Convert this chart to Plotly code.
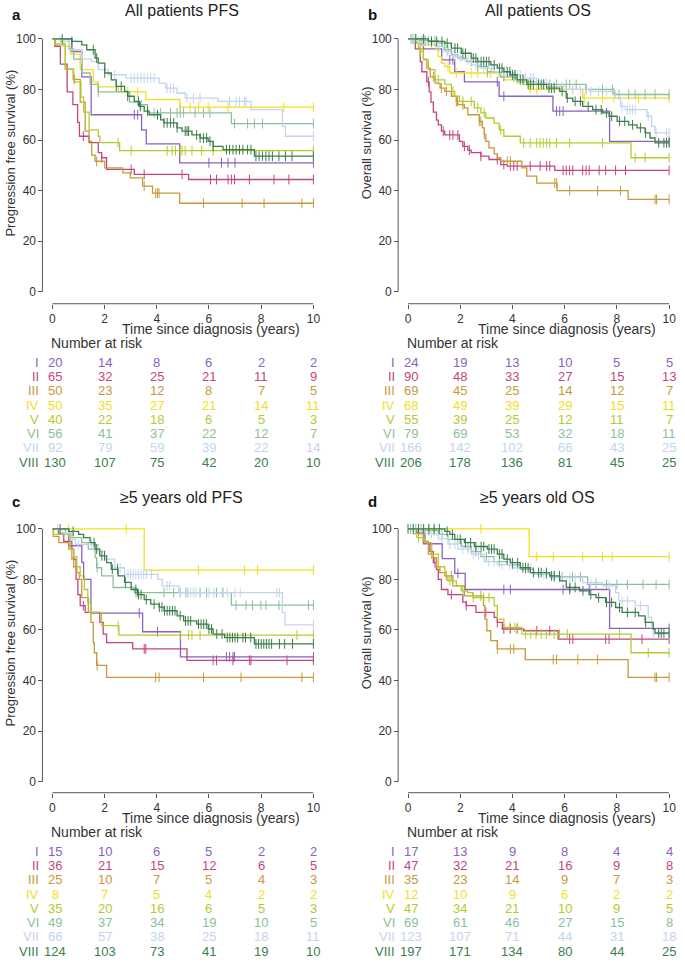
import plotly.graph_objects as go

W, H = 685, 964
FONT = "Liberation Sans, Arial, sans-serif"

GROUPS = ["I", "II", "III", "IV", "V", "VI", "VII", "VIII"]
COLORS = ["#8A62C0", "#C4467E", "#C8993A", "#F2DE1E", "#B4CB2D", "#8DBE9C", "#C3D4EF", "#3B7E4C"]
RISK_TIMES = [0, 2, 4, 6, 8, 10]
X_TICKS = [0, 2, 4, 6, 8, 10]
Y_TICKS = [0, 20, 40, 60, 80, 100]

TITLES = ["All patients PFS", "All patients OS", "\u22655 years old PFS", "\u22655 years old OS"]
LETTERS = ["a", "b", "c", "d"]
Y_TITLES = ["Progression free survival (%)", "Overall survival (%)",
            "Progression free survival (%)", "Overall survival (%)"]
X_TITLE = "Time since diagnosis (years)"

# ---------------- Panel a: All patients PFS ----------------
a_I = [(0.75, 95), (1.13, 85), (1.49, 70), (3.42, 64), (3.6, 58.5), (4.88, 51)]
a_I_cens = [3.14, 3.27, 6.0, 6.48, 6.73, 7.0, 10]
a_II = [(0.1, 97), (0.31, 90), (0.57, 79), (0.79, 74), (0.97, 67), (1.04, 61.5), (1.41, 59), (1.76, 55),
        (1.89, 53), (2.08, 48.4), (3.14, 46.4), (5.22, 44.4)]
a_II_cens = [1.19, 1.89, 3.02, 3.52, 4.97, 6.06, 6.29, 6.73, 6.86, 6.98, 7.55, 8.49, 9.06, 10]
a_III = [(0.1, 97.5), (0.5, 88), (0.8, 84), (1.07, 75), (1.26, 63.5), (1.41, 59.5), (1.51, 54), (1.64, 51.6),
         (2.01, 49), (2.7, 47), (2.99, 45), (3.46, 41.8), (3.84, 39), (4.88, 35)]
a_III_cens = [0.85, 1.7, 3.52, 3.96, 4.03, 4.09, 5.79, 7.27, 8.11, 9.56, 10]
a_IV = [(0.44, 97), (0.69, 94), (1.07, 87.8), (1.57, 83), (1.76, 81), (2.52, 79), (3.58, 76), (4.88, 73)]
a_IV_cens = [1.76, 2.89, 3.27, 4.9, 5.28, 5.6, 5.97, 6.73, 8.87, 10]
a_V = [(0.1, 98), (0.5, 88), (0.82, 83), (1.1, 77), (1.2, 71), (1.41, 64), (1.76, 61.5), (1.82, 59), (2.58, 55.8)]
a_V_cens = [2.52, 3.02, 4.4, 4.59, 4.72, 4.9, 4.97, 5.09, 5.35, 5.72, 6.16, 10]
a_VI = [(0.63, 96), (0.82, 92), (1.13, 86.5), (1.45, 82), (1.76, 79), (2.96, 75), (3.27, 74), (3.65, 70.7),
        (6.86, 66.5)]
a_VI_cens = [1.76, 3.4, 3.9, 4.15, 4.53, 4.78, 4.9, 5.03, 5.47, 5.79, 6.04, 6.98, 7.48, 7.74, 8.05, 10]
a_VII = [(0.3, 99), (0.63, 95.7), (1.13, 92), (1.5, 91), (1.76, 87.8), (2.14, 85.8), (2.83, 84.5), (4.09, 82.5),
         (4.34, 80.5), (4.78, 78.6), (5.09, 76.6), (6.35, 75.3), (7.61, 72), (8.81, 65.4), (8.93, 61.5)]
a_VII_cens = [0.31, 1.13, 2.39, 3.02, 3.14, 3.27, 3.4, 3.52, 3.65, 3.77, 3.9, 4.4, 4.53, 4.65, 5.16, 5.41, 5.66,
              6.79, 7.04, 7.17, 7.36, 7.42, 10]
a_VIII = [(0.75, 99), (1.13, 97.6), (1.32, 95.7), (1.64, 92.4), (1.76, 90.4), (2.01, 86.5), (2.26, 83.8),
          (2.45, 81.2), (2.77, 79.2), (2.89, 77.3), (3.14, 75.3), (3.33, 73.3), (3.52, 71.4), (3.71, 70),
          (4.15, 68), (4.28, 66.8), (4.78, 64.8), (4.97, 63.5), (5.35, 62), (5.66, 60.8), (5.97, 59.5),
          (6.16, 57.5), (6.54, 56.2), (7.74, 53.6)]
a_VIII_cens = [0.38, 0.75, 1.57, 1.7, 2.01, 2.45, 2.64, 2.89, 3.3, 3.37, 3.65, 4.03, 4.28, 4.4, 4.53, 4.65, 4.78,
               5.09, 5.16, 5.22, 5.53, 5.66, 5.79, 5.91, 6.04, 6.16, 6.67, 6.79, 6.92, 7.04, 7.17, 7.3, 7.48,
               7.61, 7.8, 7.92, 8.05, 8.18, 8.3, 8.43, 8.68, 8.93, 9.18, 10]
a_risk = [[20, 14, 8, 6, 2, 2], [65, 32, 25, 21, 11, 9], [50, 23, 12, 8, 7, 5], [50, 35, 27, 21, 14, 11],
          [40, 22, 18, 6, 5, 3], [56, 41, 37, 22, 12, 7], [92, 79, 59, 39, 22, 14], [130, 107, 75, 42, 20, 10]]

# ---------------- Panel b: All patients OS ----------------
b_I = [(0.59, 96), (1.29, 91.7), (1.79, 87), (2.16, 83), (3.49, 77.3), (5.55, 71.4), (7.72, 59.5)]
b_I_cens = [1.6, 1.72, 3.42, 3.67, 5.69, 5.81, 5.94, 10]
b_II = [(0.28, 96), (0.47, 91), (0.53, 87), (0.72, 83), (0.81, 79), (0.88, 75), (0.97, 71), (1.09, 67.9),
        (1.16, 66), (1.28, 63.5), (1.41, 62), (1.97, 59.5), (2.1, 57.5), (2.29, 56), (2.42, 55), (2.79, 53.6),
        (3.1, 52.3), (3.55, 50.3), (3.8, 49.7), (5.62, 48)]
b_II_cens = [0.78, 1.35, 1.6, 1.72, 1.91, 2.16, 2.35, 2.79, 3.42, 3.67, 3.92, 4.05, 4.18, 4.68, 5.06, 5.31, 5.43,
             5.94, 6.06, 6.19, 6.31, 6.69, 6.82, 6.94, 7.32, 7.57, 7.95, 8.33, 10]
b_III = [(0.4, 96), (0.59, 92), (0.72, 88.4), (0.85, 85), (1.04, 82.5), (1.23, 80.5), (1.41, 79.2), (1.66, 77.3),
         (1.85, 75.3), (1.91, 74), (2.16, 72.7), (2.29, 70), (2.73, 67.4), (2.85, 64.8), (2.92, 62.2),
         (2.98, 59.5), (3.1, 56.9), (3.3, 54.5), (3.42, 53), (3.55, 51.6), (4.36, 49), (4.55, 45.7), (4.93, 43),
         (5.71, 40), (8.43, 36.5)]
b_III_cens = [0.97, 1.28, 1.47, 1.85, 1.89, 2.1, 2.73, 2.79, 2.92, 3.8, 3.92, 5.62, 5.69, 6.19, 7.26, 8.14, 9.46,
              9.52, 10]
b_IV = [(0.21, 98.3), (0.4, 97.6), (1.09, 95.7), (1.16, 93), (1.28, 90.4), (1.41, 89), (1.6, 86.5), (3.49, 85),
        (3.67, 83.8), (4.43, 81.9), (4.62, 80), (6.69, 76.6)]
b_IV_cens = [1.53, 1.85, 2.42, 2.67, 3.04, 3.17, 4.18, 4.68, 4.93, 6.31, 6.75, 7.45, 7.89, 8.83, 10]
b_V = [(0.21, 98.3), (0.47, 95), (0.59, 91.7), (0.78, 87.8), (1.03, 83.8), (1.41, 82), (1.66, 79.2), (1.79, 77.3),
       (1.97, 75.3), (2.54, 72.7), (2.79, 70.7), (2.98, 68.7), (3.3, 66.7), (3.49, 64), (3.67, 61.5), (4.3, 58.9),
       (8.54, 53)]
b_V_cens = [0.47, 1.16, 1.72, 2.1, 2.42, 2.67, 2.92, 3.55, 4.43, 4.68, 4.93, 5.06, 5.18, 5.31, 5.43, 5.69, 6.19,
            7.45, 8.7, 9.08, 10]
b_VI = [(0.4, 99.3), (1.16, 98.3), (1.41, 95.7), (1.66, 93.7), (1.91, 92.4), (2.23, 91), (2.67, 89), (3.04, 87),
        (3.55, 85), (4.18, 83), (4.93, 82), (6.82, 80), (7.89, 78)]
b_VI_cens = [0.15, 0.28, 0.53, 0.66, 0.78, 1.03, 1.53, 2.42, 2.67, 3.04, 3.67, 4.05, 4.68, 5.18, 5.43, 5.69, 6.06,
             6.19, 6.44, 6.82, 7.45, 7.83, 8.08, 8.45, 8.7, 9.08, 9.46, 10]
b_VII = [(0.28, 99), (0.66, 98.3), (1.03, 97), (1.35, 95), (1.72, 93), (2.04, 91.7), (2.42, 89.7), (2.79, 88.4),
         (3.3, 87), (3.92, 85.8), (4.43, 84.5), (4.93, 82.5), (5.43, 81.2), (6.06, 80), (6.94, 79.2), (7.95, 76.6),
         (8.14, 73.3), (8.33, 72), (9.15, 69.4), (9.33, 65.4), (9.46, 62.8)]
b_VII_cens = [0.1, 0.2, 0.4, 0.6, 0.9, 1.2, 1.5, 1.8, 2.0, 2.3, 2.6, 2.9, 3.2, 3.5, 3.7, 3.8, 4.0, 4.1, 4.2, 4.3,
              4.5, 4.7, 4.8, 5.0, 5.3, 5.6, 5.9, 6.3, 6.6, 7.0, 7.3, 7.6, 8.2, 8.4, 8.5, 8.6, 8.7, 9.2, 9.5, 9.9, 10]
b_VIII = [(0.78, 99), (1.41, 98.3), (1.66, 96.3), (2.04, 94.3), (2.42, 92.4), (2.67, 91), (3.17, 89.7),
          (3.42, 88.4), (3.67, 87), (3.92, 85.8), (4.18, 83.8), (4.55, 82), (5.31, 80.5), (5.81, 79.2),
          (6.06, 76.6), (6.31, 75.3), (6.69, 73.3), (7.07, 72), (7.45, 70.7), (7.7, 69.4), (8.01, 67.4),
          (8.45, 66), (8.77, 64.8), (9.08, 62.8), (9.27, 60.8), (9.46, 58.9)]
b_VIII_cens = [0.3, 0.6, 0.9, 1.1, 1.3, 1.5, 1.8, 1.9, 2.1, 2.2, 2.5, 2.6, 2.8, 2.9, 3.0, 3.1, 3.3, 3.5, 3.6, 3.8,
               3.9, 4.0, 4.1, 4.3, 4.4, 4.6, 4.7, 4.8, 5.0, 5.1, 5.2, 5.4, 5.5, 5.6, 5.9, 6.1, 6.4, 6.6, 6.9,
               7.2, 7.4, 7.6, 7.8, 8.1, 8.3, 8.6, 8.9, 9.1, 9.6, 9.8, 9.9, 10]
b_risk = [[24, 19, 13, 10, 5, 5], [90, 48, 33, 27, 15, 13], [69, 45, 25, 14, 12, 7], [68, 49, 39, 29, 15, 11],
          [55, 39, 25, 12, 11, 7], [79, 69, 53, 32, 18, 11], [166, 142, 102, 66, 43, 25],
          [206, 178, 136, 81, 45, 25]]

# ---------------- Panel c: >=5 years old PFS ----------------
c_I = [(0.63, 93.3), (1.13, 86.7), (1.2, 80), (1.48, 66.7), (3.46, 59.3), (4.91, 49.4)]
c_I_cens = [3.33, 4.03, 6.67, 6.79, 6.92, 6.98, 10]
c_II = [(0.25, 98), (0.44, 95), (0.75, 92), (0.82, 88), (0.91, 80), (0.98, 74), (1.07, 69.6), (1.26, 67),
        (1.82, 63), (1.95, 58.4), (2.08, 55), (3.08, 52.5), (5.16, 48)]
c_II_cens = [1.19, 3.52, 3.58, 6.16, 6.29, 6.92, 7.55, 7.61, 8.99, 10]
c_III = [(0.03, 97), (0.25, 94.5), (0.63, 92), (0.75, 88), (0.82, 85), (0.94, 82.7), (1.03, 80), (1.13, 72.8),
         (1.38, 67), (1.48, 63), (1.57, 55), (1.61, 51), (1.7, 46), (2.08, 41.3)]
c_III_cens = [1.72, 3.96, 4.09, 5.79, 7.23, 9.56, 10]
c_IV = [(3.52, 83.7)]
c_IV_cens = [0.63, 2.83, 5.6, 7.36, 7.86, 10]
c_V = [(0.05, 97.8), (0.69, 92), (0.82, 89), (0.94, 85), (1.07, 81.4), (1.23, 76), (1.36, 71), (1.48, 67),
       (1.89, 61.7), (2.55, 58)]
c_V_cens = [2.52, 4.9, 5.22, 5.35, 5.66, 9.37, 10]
c_VI = [(0.5, 98.5), (0.75, 96.5), (1.13, 94.5), (1.38, 92), (1.64, 88.6), (1.7, 84.6), (1.89, 81.4), (2.33, 76.8),
        (3.14, 74.8), (6.86, 69.8)]
c_VI_cens = [1.72, 3.21, 3.27, 4.28, 4.65, 4.9, 5.16, 5.66, 5.91, 6.29, 6.54, 7.04, 7.42, 7.67, 7.99, 8.18, 8.68,
             9.81, 10]
c_VII = [(0.38, 98.5), (0.75, 95.8), (0.88, 93.8), (1.76, 91.2), (2.01, 88), (2.39, 84.6), (2.77, 82), (4.05, 80),
         (4.21, 77.4), (4.84, 74.8), (8.81, 67), (8.91, 62)]
c_VII_cens = [0.2, 0.6, 1.0, 1.5, 2.5, 2.6, 2.9, 3.0, 3.1, 3.2, 3.3, 3.4, 3.5, 3.6, 3.8, 4.4, 4.5, 4.9, 5.1, 5.2,
              5.3, 5.4, 5.5, 6.0, 6.2, 6.5, 6.7, 7.0, 7.2, 8.6, 8.7, 10]
c_VIII = [(0.63, 99), (1.01, 97.8), (1.2, 96.5), (1.45, 94.5), (1.64, 92), (1.82, 89.3), (2.08, 86.6), (2.26, 84),
          (2.52, 81.4), (2.77, 78.8), (3.02, 76), (3.27, 74), (3.52, 72), (3.77, 70.2), (4.09, 69), (4.28, 67.6),
          (4.78, 65.6), (5.03, 63.6), (5.53, 62.3), (5.97, 60.4), (6.16, 58.4), (6.6, 57), (7.74, 54.5)]
c_VIII_cens = [0.3, 0.8, 1.6, 1.7, 1.9, 2.0, 2.3, 2.5, 2.8, 3.2, 3.3, 3.4, 3.6, 3.9, 4.1, 4.2, 4.3, 4.4, 4.5, 4.6,
               4.7, 4.9, 5.1, 5.2, 5.3, 5.6, 5.7, 5.8, 5.9, 6.0, 6.1, 6.3, 6.5, 6.7, 6.8, 6.9, 7.0, 7.1, 7.3, 7.4,
               7.6, 7.8, 7.9, 8.0, 8.1, 8.2, 8.3, 8.4, 8.7, 8.9, 9.2, 10]
c_risk = [[15, 10, 6, 5, 2, 2], [36, 21, 15, 12, 6, 5], [25, 10, 7, 5, 4, 3], [8, 7, 5, 4, 2, 2],
          [35, 20, 16, 6, 5, 3], [49, 37, 34, 19, 10, 5], [66, 57, 38, 25, 18, 11], [124, 103, 73, 41, 19, 10]]

# ---------------- Panel d: >=5 years old OS ----------------
d_I = [(0.59, 94.1), (1.31, 88.2), (1.79, 82.4), (2.19, 76), (7.72, 60.6)]
d_I_cens = [1.91, 3.67, 3.92, 5.94, 6.19, 6.94, 10]
d_II = [(0.34, 98.4), (0.65, 94.5), (0.84, 91), (0.97, 86.6), (1.09, 84), (1.16, 80), (1.28, 76), (1.53, 74),
        (2.1, 71), (2.23, 69.6), (2.6, 67), (3.3, 65), (3.42, 63), (3.61, 60.4), (4.43, 59.7), (5.75, 56.4)]
d_II_cens = [1.03, 1.66, 2.23, 2.98, 3.42, 3.67, 3.92, 4.18, 4.93, 5.43, 6.19, 6.31, 7.57, 7.7, 8.96, 10]
d_III = [(0.4, 98), (0.59, 95), (0.78, 90), (0.97, 88.6), (1.09, 85), (1.22, 82.7), (1.41, 81.4), (1.72, 77.4),
         (2.16, 73.5), (2.89, 69.6), (2.94, 64.3), (3.02, 59.7), (3.17, 55.8), (3.42, 52.5), (4.49, 48.3),
         (8.43, 41.3)]
d_III_cens = [0.91, 1.47, 1.66, 2.79, 3.42, 3.92, 4.05, 5.56, 5.69, 6.5, 7.26, 9.46, 9.52, 10]
d_IV = [(4.64, 89)]
d_IV_cens = [0.59, 2.79, 4.93, 5.56, 6.69, 7.45, 7.82, 10]
d_V = [(0.21, 98), (0.34, 96.5), (0.65, 94.5), (0.91, 90), (1.16, 85), (1.41, 81.4), (1.53, 79.4), (1.85, 77.4),
       (2.04, 75.5), (2.29, 74.8), (2.48, 72.8), (3.3, 69.6), (3.42, 64.3), (3.67, 61), (4.36, 58.4), (8.54, 51)]
d_V_cens = [0.4, 1.6, 2.1, 2.5, 2.9, 3.1, 3.9, 4.1, 4.2, 4.5, 4.7, 4.9, 5.1, 5.3, 5.6, 5.8, 6.1, 8.1, 9.2, 10]
d_VI = [(0.53, 99.3), (1.16, 97.8), (1.53, 95.8), (2.04, 93), (2.42, 91), (2.79, 89), (3.3, 87), (3.8, 85.8),
        (4.3, 84), (4.81, 82), (5.43, 81), (6.88, 78)]
d_VI_cens = [0.1, 0.3, 0.5, 0.8, 1.0, 1.3, 1.9, 2.3, 2.6, 3.0, 3.5, 4.0, 4.5, 5.0, 5.3, 5.6, 5.9, 6.3, 6.6, 7.2,
             7.6, 8.0, 8.4, 9.0, 9.5, 10]
d_VII = [(0.66, 98), (1.16, 96), (1.53, 94), (1.91, 92), (2.42, 90), (2.92, 87), (3.42, 85.8), (4.05, 84.5),
         (4.81, 82), (5.43, 80.7), (6.69, 78.7), (7.45, 77.4), (7.95, 74.8), (8.07, 71.5), (8.7, 69.6), (9.2, 65),
         (9.33, 61.7), (9.39, 58.4)]
d_VII_cens = [0.2, 0.5, 0.9, 1.3, 1.6, 1.8, 2.1, 2.3, 2.5, 2.7, 3.1, 3.3, 3.6, 3.9, 4.2, 4.5, 4.7, 5.0, 5.2, 5.6,
              5.8, 6.2, 6.4, 7.0, 7.2, 7.7, 8.2, 8.4, 8.9, 9.4, 9.6, 10]
d_VIII = [(1.41, 99), (1.6, 97.8), (1.79, 95.8), (2.16, 94.5), (2.54, 93), (3.04, 92), (3.42, 90), (3.67, 88),
          (3.92, 86.6), (4.3, 84.6), (4.68, 82.7), (5.43, 81.4), (5.81, 79.4), (6.06, 76.8), (6.57, 75.5),
          (6.94, 74), (7.2, 72.8), (7.57, 70.9), (7.95, 68.9), (8.2, 67), (8.83, 65.6), (9.08, 63), (9.39, 60.4),
          (9.46, 58.8)]
d_VIII_cens = [0.0, 0.2, 0.4, 0.6, 0.8, 1.0, 1.2, 1.5, 1.7, 2.0, 2.2, 2.4, 2.6, 2.8, 2.9, 3.1, 3.2, 3.3, 3.5, 3.6,
               3.8, 4.0, 4.2, 4.4, 4.5, 4.6, 4.8, 5.0, 5.1, 5.3, 5.5, 5.6, 5.8, 6.2, 6.4, 6.7, 7.0, 7.3, 7.6, 7.8,
               8.1, 8.4, 8.7, 9.1, 9.6, 9.7, 9.8, 10]
d_risk = [[17, 13, 9, 8, 4, 4], [47, 32, 21, 16, 9, 8], [35, 23, 14, 9, 7, 3], [12, 10, 9, 6, 2, 2],
          [47, 34, 21, 10, 9, 5], [69, 61, 46, 27, 15, 8], [123, 107, 71, 44, 31, 18], [197, 171, 134, 80, 44, 25]]

PANELS = [
    ([a_I, a_II, a_III, a_IV, a_V, a_VI, a_VII, a_VIII],
     [a_I_cens, a_II_cens, a_III_cens, a_IV_cens, a_V_cens, a_VI_cens, a_VII_cens, a_VIII_cens], a_risk),
    ([b_I, b_II, b_III, b_IV, b_V, b_VI, b_VII, b_VIII],
     [b_I_cens, b_II_cens, b_III_cens, b_IV_cens, b_V_cens, b_VI_cens, b_VII_cens, b_VIII_cens], b_risk),
    ([c_I, c_II, c_III, c_IV, c_V, c_VI, c_VII, c_VIII],
     [c_I_cens, c_II_cens, c_III_cens, c_IV_cens, c_V_cens, c_VI_cens, c_VII_cens, c_VIII_cens], c_risk),
    ([d_I, d_II, d_III, d_IV, d_V, d_VI, d_VII, d_VIII],
     [d_I_cens, d_II_cens, d_III_cens, d_IV_cens, d_V_cens, d_VI_cens, d_VII_cens, d_VIII_cens], d_risk),
]

# ---------------- layout geometry (pixels) ----------------
def px(xp):
    return xp / W

def py(yp):
    return 1 - yp / H

GEOM = [
    dict(x0=50, x10=315, yax=40, y100=37, y0=291, xax=303, top=0),
    dict(x0=411, x10=676, yax=401, y100=37, y0=291, xax=303, top=0),
    dict(x0=50, x10=315, yax=40, y100=529, y0=783, xax=794, top=489),
    dict(x0=411, x10=676, yax=401, y100=529, y0=783, xax=794, top=489),
]

YPAD_LO, YPAD_HI = 2, 2

fig = go.Figure()
layout = dict(width=W, height=H, margin=dict(l=0, r=0, t=0, b=0), paper_bgcolor="white",
              plot_bgcolor="rgba(0,0,0,0)", showlegend=False, font=dict(family=FONT, color="#333"))
annotations = []
shapes = []

def step_value(steps, t):
    v = 100
    for st, sv in steps:
        if st <= t:
            v = sv
    return v

for p, (curves, cens, risk) in enumerate(PANELS):
    g = GEOM[p]
    sfx = "" if p == 0 else str(p + 1)
    xa, ya = "xaxis" + sfx, "yaxis" + sfx
    xr, yr = "x" + sfx, "y" + sfx
    ppu = (g["y0"] - g["y100"]) / 100.0
    layout[xa] = dict(domain=[px(g["x0"]), px(g["x10"])], range=[0, 10], anchor="free", position=py(g["xax"]),
                      showline=False, showgrid=False, zeroline=False, ticks="outside", ticklen=4,
                      tickcolor="#555", tickvals=X_TICKS, tickfont=dict(size=12, color="#333", family=FONT))
    layout[ya] = dict(domain=[py(g["y0"] + YPAD_LO * ppu), py(g["y100"] - YPAD_HI * ppu)],
                      range=[-YPAD_LO, 100 + YPAD_HI], anchor="free", position=px(g["yax"]),
                      showline=False, showgrid=False, zeroline=False, ticks="outside", ticklen=4,
                      tickcolor="#555", tickvals=Y_TICKS, tickfont=dict(size=12, color="#333", family=FONT))
    shapes.append(dict(type="line", xref=xr, yref="paper", x0=0, x1=10, y0=py(g["xax"]), y1=py(g["xax"]),
                       line=dict(color="#555", width=1)))
    shapes.append(dict(type="line", xref="paper", yref=yr, x0=px(g["yax"]), x1=px(g["yax"]), y0=0, y1=100,
                       line=dict(color="#555", width=1)))

    for gi, (steps, cz) in enumerate(zip(curves, cens)):
        col = COLORS[gi]
        xs = [0] + [s[0] for s in steps] + [10]
        ys = [100] + [s[1] for s in steps] + [steps[-1][1] if steps else 100]
        fig.add_trace(go.Scatter(x=xs, y=ys, mode="lines", line=dict(color=col, width=1.3, shape="hv"),
                                 xaxis=xr, yaxis=yr, hoverinfo="skip"))
        fig.add_trace(go.Scatter(x=cz, y=[step_value(steps, t) for t in cz], mode="markers",
                                 marker=dict(symbol="line-ns-open", size=7, color=col,
                                             line=dict(color=col, width=1)),
                                 xaxis=xr, yaxis=yr, cliponaxis=False, hoverinfo="skip"))

    cx = (g["x0"] + g["x10"]) / 2
    annotations.append(dict(text=TITLES[p], x=px(cx - 1), y=py(g["top"] + 9), xref="paper", yref="paper",
                            showarrow=False, font=dict(size=16, color="#222", family=FONT),
                            xanchor="center", yanchor="middle"))
    annotations.append(dict(text="<b>" + LETTERS[p] + "</b>", x=px(g["yax"] - 33), y=py(g["top"] + 13),
                            xref="paper", yref="paper", showarrow=False,
                            font=dict(size=15, color="#111", family=FONT), xanchor="left", yanchor="middle"))
    ymid = g["y100"] + (g["y0"] - g["y100"]) * (0.45 if p % 2 == 0 else 0.41)
    annotations.append(dict(text=Y_TITLES[p], x=px(g["yax"] - 32), y=py(ymid), xref="paper", yref="paper",
                            showarrow=False, textangle=-90, font=dict(size=13, color="#333", family=FONT),
                            xanchor="center", yanchor="middle"))
    annotations.append(dict(text=X_TITLE, x=px(g["x0"] + 161), y=py(g["xax"] + 25), xref="paper", yref="paper",
                            showarrow=False, font=dict(size=14, color="#333", family=FONT),
                            xanchor="center", yanchor="middle"))
    annotations.append(dict(text="Number at risk", x=px(g["x0"] - 3), y=py(g["xax"] + 39), xref="paper",
                            yref="paper", showarrow=False, font=dict(size=14, color="#333", family=FONT),
                            xanchor="left", yanchor="middle"))
    for gi, row in enumerate(risk):
        ry = g["xax"] + 59 + gi * 14.3
        annotations.append(dict(text=GROUPS[gi], x=px(g["yax"] - 1), y=py(ry), xref="paper", yref="paper",
                                showarrow=False, font=dict(size=13, color=COLORS[gi], family=FONT),
                                xanchor="right", yanchor="middle"))
        for ti, n in enumerate(row):
            t = RISK_TIMES[ti] + (0.12 if ti == 0 else 0)
            annotations.append(dict(text=str(n), x=t, y=py(ry), xref=xr, yref="paper", showarrow=False,
                                    font=dict(size=13, color=COLORS[gi], family=FONT),
                                    xanchor="center", yanchor="middle"))

layout["annotations"] = annotations
layout["shapes"] = shapes
fig.update_layout(**layout)
fig.write_html("out.html", config={"displayModeBar": False},
               post_script="document.body.style.margin='0';document.body.style.overflow='hidden';")
